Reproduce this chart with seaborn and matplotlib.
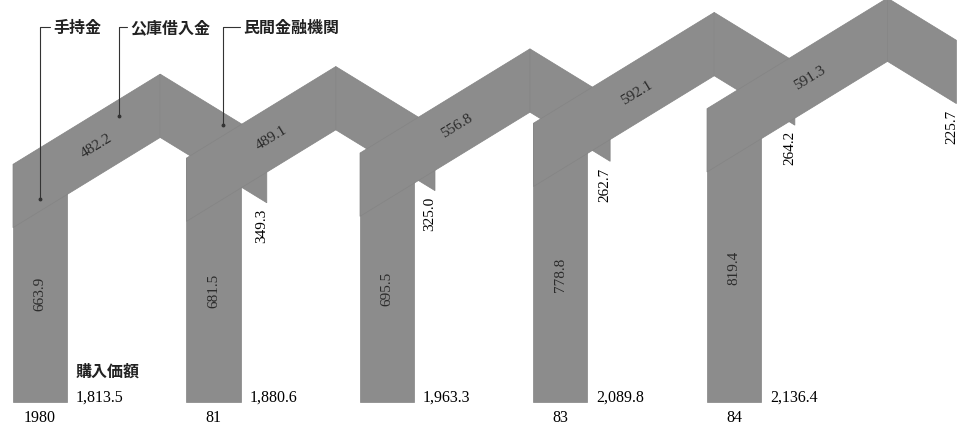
import numpy as np
import pandas as pd
import matplotlib
matplotlib.use("Agg")
import matplotlib.pyplot as plt
from matplotlib.patches import Polygon
import seaborn as sns

# 住宅購入資金の内訳（万円）
years = ["1980", "81", "82", "83", "84"]
year_labels = ["1980", "81", "", "83", "84"]   # 82 は原図で表示なし
own_funds = [663.9, 681.5, 695.5, 778.8, 819.4]      # 手持金
public_loan = [482.2, 489.1, 556.8, 592.1, 591.3]    # 公庫借入金
private_loan = [349.3, 325.0, 262.7, 264.2, 225.7]   # 民間金融機関
total_price = ["1,813.5", "1,880.6", "1,963.3", "2,089.8", "2,136.4"]  # 購入価額

# layout (pixels of the 978x427 picture)
PX = 0.358          # pixels per 万円
BASE = 403          # baseline, px from top
BAR_W = 54 / PX
STEP = 173.5 / PX
FIRST = 13 / PX
ANG = np.radians(31.5)
THICK = BAR_W / np.cos(ANG)

FILL = "#8c8c8c"
EDGE = "#848484"
TXT = "#2b2b2b"
SERIF = ["Liberation Serif", "DejaVu Serif"]
CJK = ["Noto Sans CJK JP", "DejaVu Sans"]


def pt(px, py):
    return px / PX, (BASE - py) / PX


sns.set_theme(style="white")
fig = plt.figure(figsize=(9.78, 4.27), dpi=100)
ax = fig.add_axes([0, 0, 1, 1])

lefts = [FIRST + i * STEP for i in range(len(years))]
centers = [l + BAR_W / 2 for l in lefts]

df = pd.DataFrame({"pos": centers, "own": own_funds})
sns.barplot(data=df, x="pos", y="own", native_scale=True, width=BAR_W / STEP,
            color=FILL, saturation=1, edgecolor=EDGE, linewidth=0.5,
            ax=ax, zorder=2)

for i in range(len(years)):
    x0 = lefts[i]
    top = own_funds[i]
    z = 3 + 2 * i
    # 公庫借入金: rising band
    xp = x0 + public_loan[i] * np.cos(ANG)
    yp = top + public_loan[i] * np.sin(ANG)
    ax.add_patch(Polygon([(x0, top), (xp, yp), (xp, yp - THICK), (x0, top - THICK)],
                         closed=True, facecolor=FILL, edgecolor=EDGE, lw=0.5, zorder=z))
    # 民間金融機関: falling band
    xe = xp + private_loan[i] * np.cos(ANG)
    ye = yp - private_loan[i] * np.sin(ANG)
    ax.add_patch(Polygon([(xp, yp), (xe, ye), (xe, ye - THICK), (xp, yp - THICK)],
                         closed=True, facecolor=FILL, edgecolor=EDGE, lw=0.5, zorder=z))

    # value labels
    ax.text(centers[i], top * 0.46, f"{own_funds[i]:.1f}", rotation=90,
            ha="center", va="center", fontsize=11, color=TXT, family=SERIF, zorder=20)
    f = 0.57
    ax.text(x0 + f * public_loan[i] * np.cos(ANG),
            top + f * public_loan[i] * np.sin(ANG) - THICK / 2,
            f"{public_loan[i]:.1f}", rotation=np.degrees(ANG), rotation_mode="anchor",
            ha="center", va="center", fontsize=11, color=TXT, family=SERIF, zorder=20)
    ax.text(xe - 5 / PX, ye - THICK - 5 / PX, f"{private_loan[i]:.1f}", rotation=90,
            ha="center", va="top", fontsize=11, color="black", family=SERIF, zorder=20)
    ax.text(x0 + BAR_W + 9 / PX, 1 / PX, total_price[i], ha="left", va="baseline",
            fontsize=11.5, color="black", family=SERIF, zorder=20)
    ax.text(centers[i], -15 / PX, year_labels[i], ha="center", va="center",
            fontsize=11.5, color="black", family=SERIF, zorder=20)

# 購入価額
ax.text(lefts[0] + BAR_W + 9 / PX, (BASE - 372) / PX, "購入価額", ha="left", va="center",
        fontsize=11.5, fontweight="bold", color="#222222", family=CJK)

# legend leaders
leaders = [("手持金", 40, 200, 53), ("公庫借入金", 119, 117, 130), ("民間金融機関", 223, 126, 243)]
for name, lx, ly, tx in leaders:
    xa, ya = pt(lx, 28)
    xb, yb = pt(lx, ly)
    xt, _ = pt(tx - 3, 28)
    ax.plot([xt, xa, xb], [ya, ya, yb], color="#333333", lw=0.8, zorder=30)
    ax.plot([xb], [yb], marker="o", ms=1.8, color="#333333", zorder=30)
    ax.text(pt(tx, 28)[0], ya, name, ha="left", va="center", fontsize=11.5,
            fontweight="bold", color="#222222", family=CJK, zorder=30)

ax.set_xlim(0, 978 / PX)
ax.set_ylim((BASE - 427) / PX, BASE / PX)
ax.axis("off")

fig.savefig("out.png", dpi=100, facecolor="white")
